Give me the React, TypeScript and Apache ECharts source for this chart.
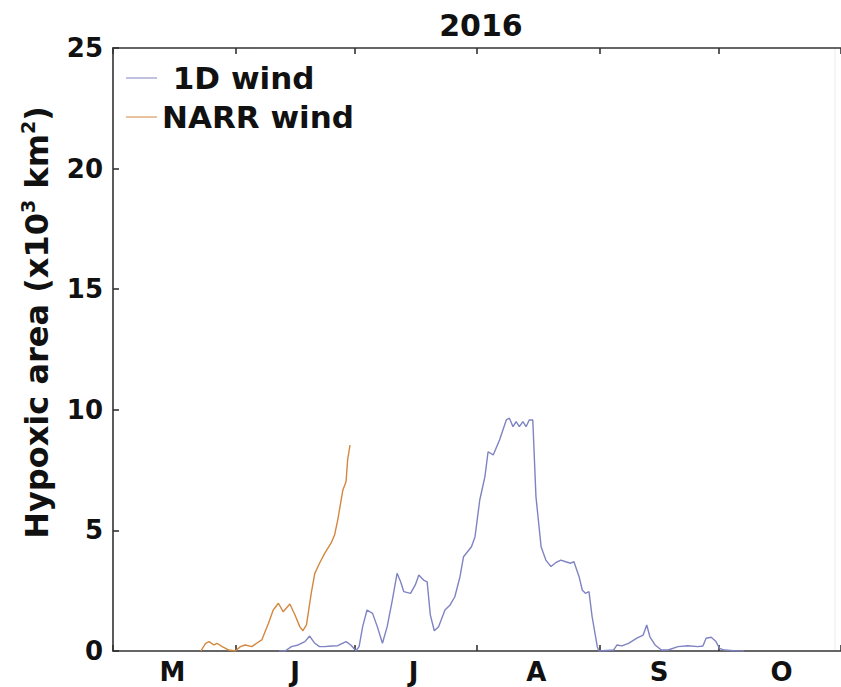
import React, { useEffect, useRef } from "react";
import * as echarts from "echarts";

// x = days since 1 May 2016
const monthLabels = ["M", "J", "J", "A", "S", "O"];
const monthStarts = [0, 31, 61, 92, 123, 153, 184];
const labelDays = [15, 46, 76, 107, 138, 169];
const yTicks = [0, 5, 10, 15, 20, 25];

const narrDays = [22.2, 23.4, 24.3, 25.5, 26.3, 27.6, 29.3, 30.9, 32.2, 33.4, 35.1, 36.3, 37.6, 39.3, 40.5, 41.8, 43.0, 44.7, 46.0, 47.2, 48.0, 48.9, 50.1, 51.0, 52.2, 53.5, 55.1, 56.0, 56.8, 58.1, 58.9, 59.3, 59.9];
const narrVals = [0, 0.32, 0.39, 0.25, 0.32, 0.18, 0.04, 0, 0.18, 0.25, 0.18, 0.32, 0.46, 1.15, 1.7, 1.98, 1.63, 1.95, 1.49, 1.01, 0.84, 1.08, 2.39, 3.22, 3.64, 4.05, 4.47, 4.81, 5.43, 6.68, 7.02, 7.92, 8.54];

const windDays = [42.0, 43.5, 45.1, 46.8, 48.5, 49.7, 51.0, 52.2, 53.5, 55.1, 56.8, 58.9, 60.1, 61.4, 62.2, 63.1, 64.2, 65.6, 66.8, 68.1, 69.3, 70.6, 71.8, 72.7, 73.5, 75.2, 76.4, 77.3, 78.5, 79.4, 80.2, 81.2, 82.3, 83.9, 85.2, 86.4, 87.7, 88.6, 90.6, 91.5, 92.7, 94.0, 94.8, 96.1, 97.7, 99.4, 100.2, 101.1, 101.9, 102.7, 103.6, 104.4, 105.2, 106.1, 106.9, 108.2, 109.4, 110.7, 111.9, 113.2, 114.4, 115.7, 116.5, 117.8, 118.6, 119.4, 120.3, 121.1, 122.4, 122.8, 126.5, 127.4, 128.6, 130.3, 132.4, 134.0, 134.9, 135.7, 137.0, 138.6, 140.3, 142.8, 145.3, 147.8, 149.1, 149.9, 151.2, 152.4, 153.3, 154.5, 157.0, 159.5];
const windVals = [0, 0, 0.18, 0.25, 0.39, 0.62, 0.32, 0.18, 0.18, 0.21, 0.22, 0.39, 0.25, 0.01, 0.18, 1.01, 1.7, 1.56, 1.01, 0.32, 1.01, 2.11, 3.22, 2.87, 2.46, 2.39, 2.74, 3.15, 2.94, 2.87, 1.5, 0.84, 1.01, 1.7, 1.91, 2.25, 3.08, 3.91, 4.32, 4.74, 6.26, 7.23, 8.26, 8.13, 8.75, 9.58, 9.65, 9.3, 9.51, 9.3, 9.51, 9.3, 9.58, 9.58, 6.4, 4.32, 3.77, 3.5, 3.66, 3.77, 3.7, 3.64, 3.7, 3.08, 2.53, 2.39, 2.46, 1.42, 0.18, 0, 0.04, 0.25, 0.21, 0.32, 0.53, 0.66, 1.08, 0.59, 0.25, 0.04, 0.04, 0.18, 0.22, 0.18, 0.21, 0.53, 0.57, 0.39, 0.11, 0.04, 0.01, 0];

const FONT = "DejaVu Sans";
const AXIS = "#333333";
const TXT = "#111111";

export default function App() {
  const ref = useRef<HTMLDivElement>(null);
  useEffect(() => {
    if (!ref.current) return;
    const chart = echarts.init(ref.current, null, { renderer: "svg" });
    const days = Array.from({ length: monthStarts[monthStarts.length - 1] + 1 }, (_, i) => String(i));
    const catAxis = (position: "top" | "bottom", showLabel: boolean) => ({
      type: "category",
      data: days,
      position,
      boundaryGap: false,
      axisLine: { show: true, lineStyle: { color: AXIS, width: 1.6 } },
      axisTick: {
        show: true,
        inside: true,
        length: 6,
        interval: (i: number) => monthStarts.includes(i),
        lineStyle: { color: AXIS, width: 1.6 },
      },
      axisLabel: {
        show: showLabel,
        interval: (i: number) => labelDays.includes(i),
        formatter: (_v: string, i: number) => {
          const k = labelDays.indexOf(i);
          return k >= 0 ? monthLabels[k] : "";
        },
        margin: 8,
        color: TXT,
        fontFamily: FONT,
        fontWeight: "bold",
        fontSize: 26,
      },
      splitLine: { show: false },
    });
    chart.setOption({
      animation: false,
      backgroundColor: "#ffffff",
      grid: { left: 113, right: -7, top: 48, bottom: 36, containLabel: false },
      graphic: [
        {
          type: "text",
          style: { text: "2016", x: 481, y: 10, textAlign: "center", fill: TXT, font: `bold 30px "${FONT}"` },
        },
        {
          type: "line",
          shape: { x1: 835, y1: 48, x2: 835, y2: 651 },
          style: { stroke: "#ececec", lineWidth: 1 },
        },
      ],
      legend: {
        orient: "vertical",
        left: 126,
        top: 60,
        padding: 0,
        itemWidth: 31,
        itemHeight: 2,
        itemGap: 3,
        icon: "rect",
        data: [" 1D wind", "NARR wind"],
        itemStyle: { opacity: 0.5 },
        textStyle: { fontFamily: FONT, fontWeight: "bold", fontSize: 31, color: TXT, lineHeight: 36 },
      },
      xAxis: [
        { type: "value", min: 0, max: monthStarts[monthStarts.length - 1], show: false },
        catAxis("bottom", true),
        catAxis("top", false),
      ],
      yAxis: {
        type: "value",
        min: yTicks[0],
        max: yTicks[yTicks.length - 1],
        interval: 5,
        name: "{n|Hypoxic area (x10}{sup|3}{n| km}{sup|2}{n|)}",
        nameLocation: "middle",
        nameGap: 60,
        nameTextStyle: {
          fontFamily: FONT,
          fontWeight: "bold",
          fontSize: 32,
          color: TXT,
          padding: [0, 0, 0, 54],
          rich: {
            n: { fontFamily: FONT, fontWeight: "bold", fontSize: 32, lineHeight: 35, verticalAlign: "bottom", color: TXT },
            sup: { fontFamily: FONT, fontWeight: "bold", fontSize: 19, lineHeight: 19, verticalAlign: "top", color: TXT },
          },
        },
        axisLine: { show: true, lineStyle: { color: AXIS, width: 1.6 } },
        axisTick: { show: true, inside: true, length: 6, lineStyle: { color: AXIS, width: 1.6 } },
        axisLabel: { margin: 10, color: TXT, fontFamily: FONT, fontWeight: "bold", fontSize: 26 },
        splitLine: { show: false },
      },
      series: [
        {
          name: " 1D wind",
          type: "line",
          xAxisIndex: 0,
          showSymbol: false,
          symbol: "none",
          color: "#7f83c2",
          lineStyle: { color: "#7f83c2", width: 1.4 },
          data: windDays.map((d, i) => [d, windVals[i]]),
        },
        {
          name: "NARR wind",
          type: "line",
          xAxisIndex: 0,
          showSymbol: false,
          symbol: "none",
          color: "#d4873f",
          lineStyle: { color: "#d4873f", width: 1.4 },
          data: narrDays.map((d, i) => [d, narrVals[i]]),
        },
      ],
    });
    return () => chart.dispose();
  }, []);
  return <div ref={ref} style={{ width: 841, height: 687, position: "absolute", left: 0, top: 0 }} />;
}
